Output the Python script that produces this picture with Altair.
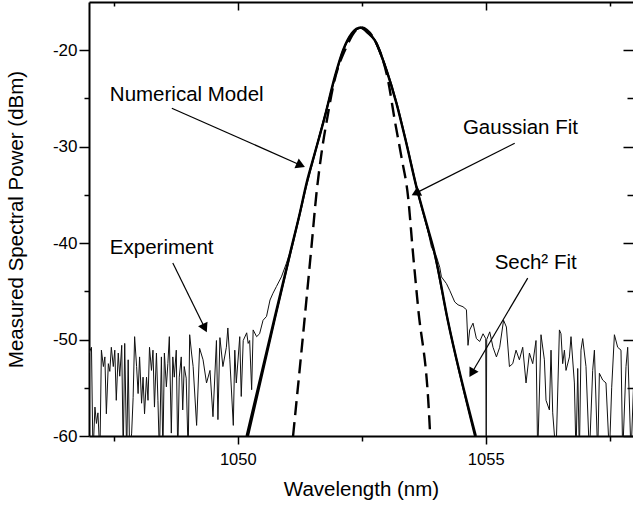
import math
import altair as alt
import pandas as pd

FONT = "Liberation Sans"

# ---------------- data ----------------
exp_wl = [1047.00, 1047.05, 1047.08, 1047.12, 1047.15, 1047.18, 1047.22, 1047.25, 1047.29, 1047.32,
          1047.35, 1047.39, 1047.42, 1047.45, 1047.49, 1047.52, 1047.55, 1047.59, 1047.62, 1047.66,
          1047.69, 1047.72, 1047.76, 1047.79, 1047.82, 1047.86, 1047.89, 1047.92, 1047.96, 1047.99,
          1048.02, 1048.06, 1048.09, 1048.12, 1048.16, 1048.19, 1048.22, 1048.26, 1048.29, 1048.32,
          1048.36, 1048.39, 1048.42, 1048.46, 1048.49, 1048.52, 1048.56, 1048.59, 1048.62, 1048.66,
          1048.69, 1048.72, 1048.76, 1048.79, 1048.82, 1048.86, 1048.89, 1048.92, 1048.96, 1049.00,
          1049.03, 1049.07, 1049.10, 1049.17, 1049.23, 1049.30, 1049.37, 1049.44, 1049.50, 1049.57,
          1049.60, 1049.64, 1049.70, 1049.77, 1049.80, 1049.84, 1049.91, 1049.94, 1049.97, 1050.04,
          1050.07, 1050.11, 1050.18, 1050.21, 1050.24, 1050.28, 1050.31, 1050.38, 1050.44, 1050.51,
          1050.58, 1050.65, 1050.71, 1050.78, 1050.88, 1050.98, 1051.05, 1051.10, 1051.25, 1051.39,
          1051.55, 1051.75, 1051.96, 1052.12, 1052.30, 1052.48, 1052.62, 1052.76, 1053.00, 1053.20,
          1053.40, 1053.60, 1053.80, 1053.905, 1054.006, 1054.073, 1054.107, 1054.208, 1054.274, 1054.375,
          1054.442, 1054.542, 1054.611, 1054.643, 1054.677, 1054.744, 1054.812, 1054.879, 1054.946, 1055.00,
          1055.01, 1055.02, 1055.081, 1055.147, 1055.216, 1055.282, 1055.36, 1055.417, 1055.478, 1055.545,
          1055.611, 1055.679, 1055.746, 1055.813, 1055.881, 1055.948, 1056.014, 1056.048, 1056.115, 1056.183,
          1056.216, 1056.284, 1056.317, 1056.351, 1056.417, 1056.486, 1056.518, 1056.552, 1056.587, 1056.619,
          1056.688, 1056.720, 1056.788, 1056.821, 1056.855, 1056.889, 1056.921, 1056.956, 1057.022, 1057.091,
          1057.157, 1057.192, 1057.258, 1057.292, 1057.359, 1057.425, 1057.494, 1057.54, 1057.595, 1057.661,
          1057.728, 1057.762, 1057.829, 1057.863, 1057.930, 1058.00]
exp_db = [-51.4, -50.8, -62.0, -57.0, -58.7, -57.6, -62.0, -51.1, -52.8, -51.8,
          -57.7, -52.5, -53.3, -50.8, -52.8, -51.1, -56.3, -51.4, -53.8, -50.6,
          -62.0, -50.4, -62.0, -52.1, -62.0, -59.7, -56.0, -49.7, -52.8, -55.6,
          -51.8, -56.6, -53.9, -57.7, -53.9, -56.3, -50.8, -53.2, -51.1, -57.0,
          -51.4, -56.3, -62.0, -51.8, -62.0, -51.4, -54.9, -52.5, -49.7, -59.7,
          -51.8, -53.9, -51.1, -62.0, -53.9, -51.8, -57.3, -52.8, -54.0, -62.0,
          -49.5, -51.5, -52.8, -58.9, -50.9, -52.1, -54.5, -53.2, -58.0, -50.1,
          -58.3, -49.8, -52.8, -50.8, -48.8, -52.1, -58.9, -51.1, -54.5, -49.7,
          -55.9, -50.1, -49.3, -50.4, -50.1, -55.2, -49.0, -49.7, -49.4, -48.0,
          -47.6, -45.9, -45.2, -44.5, -43.5, -42.1, -41.0, -40.0, -36.8, -33.7,
          -30.6, -26.8, -22.7, -20.0, -18.2, -17.65, -18.2, -19.0, -22.1, -25.6,
          -29.7, -34.2, -38.0, -40.4, -41.4, -42.5, -43.5, -44.2, -44.9, -46.1,
          -46.4, -46.6, -46.9, -50.6, -49.0, -48.3, -49.9, -50.2, -49.4, -49.9,
          -62.0, -50.0, -49.2, -50.8, -51.8, -50.8, -48.0, -48.7, -52.8, -52.5,
          -51.1, -52.1, -50.8, -54.5, -51.4, -52.5, -50.1, -62.0, -49.5, -52.1,
          -56.3, -57.3, -51.1, -57.6, -62.0, -49.0, -49.4, -52.5, -51.1, -53.2,
          -51.8, -49.7, -54.5, -62.0, -53.0, -62.0, -51.1, -49.9, -52.8, -62.0,
          -53.2, -51.1, -62.0, -53.5, -54.2, -54.5, -62.0, -55.0, -49.5, -50.8,
          -51.1, -62.0, -52.8, -50.8, -62.0, -52.0]

num_wl = [1050.18, 1050.746, 1051.07, 1051.25, 1051.385, 1051.552, 1051.754, 1051.956, 1052.123, 1052.30,
          1052.48, 1052.62, 1052.76, 1052.998, 1053.20, 1053.40, 1053.603, 1053.805, 1053.972, 1054.234, 1054.80]
num_db = [-60.0, -47.67, -40.73, -36.92, -33.81, -30.70, -26.91, -22.77, -20.0, -18.25,
          -17.65, -18.2, -18.96, -22.07, -25.52, -29.67, -34.17, -37.96, -41.07, -47.98, -60.0]

gau_wl = [1051.115, 1051.30, 1051.486, 1051.587, 1051.688, 1051.821, 1051.921, 1052.19, 1052.48,
          1052.83, 1053.03, 1053.165, 1053.30, 1053.434, 1053.534, 1053.635, 1053.871, 1053.88]
gau_db = [-60.0, -50.4, -40.38, -34.85, -30.70, -26.56, -23.80, -19.66, -17.62,
          -19.66, -23.11, -27.25, -31.06, -35.20, -41.07, -46.60, -59.04, -60.0]

sech_wl = [1050.21, 1050.75, 1051.07, 1051.25, 1051.39, 1051.55, 1051.75, 1051.95, 1052.12, 1052.30,
           1052.48, 1052.64, 1052.76, 1053.00, 1053.20, 1053.40, 1053.60, 1053.80, 1053.97, 1054.23, 1054.78]
sech_db = [-60.0, -47.9, -40.9, -37.0, -33.9, -30.8, -27.0, -23.0, -20.1, -18.3,
           -17.7, -18.2, -18.9, -22.0, -25.4, -29.6, -34.1, -38.0, -41.2, -47.9, -60.0]

x_major = [1050, 1055]
x_minor = [1047.5, 1052.5, 1057.5]
y_major = [-60, -50, -40, -30, -20]
y_minor = [-55, -45, -35, -25]

ann_label = ["Numerical Model", "Experiment", "Gaussian Fit", "Sech\u00b2 Fit"]
ann_tx = [1047.42, 1047.42, 1054.54, 1055.18]
ann_ty = [-24.66, -40.55, -28.08, -42.07]
arr_x1 = [1048.67, 1048.69, 1055.585, 1055.847]
arr_y1 = [-26.01, -42.07, -29.64, -43.63]
arr_x2 = [1051.27, 1049.335, 1053.589, 1054.718]
arr_y2 = [-31.92, -48.81, -34.82, -53.47]

# ---------------- layout ----------------
W, H = 544, 434
X_DOM = [1047, 1057.97]
Y_DOM = [-60, -15]
xs = alt.Scale(domain=X_DOM, nice=False, zero=False)
ys = alt.Scale(domain=Y_DOM, nice=False, zero=False)

PX_NM = W / (X_DOM[1] - X_DOM[0])
PX_DB = H / (Y_DOM[1] - Y_DOM[0])
angles = []
for a, b, c, d in zip(arr_x1, arr_y1, arr_x2, arr_y2):
    dx = (c - a) * PX_NM
    dy = -(d - b) * PX_DB
    angles.append(math.degrees(math.atan2(dx, -dy)) % 360)

exp_df = pd.DataFrame({"wl": exp_wl, "db": exp_db})
num_df = pd.DataFrame({"wl": num_wl, "db": num_db})
gau_df = pd.DataFrame({"wl": gau_wl, "db": gau_db})
sech_df = pd.DataFrame({"wl": sech_wl, "db": sech_db})
ann_df = pd.DataFrame({"label": ann_label, "tx": ann_tx, "ty": ann_ty,
                       "x1": arr_x1, "y1": arr_y1, "x2": arr_x2, "y2": arr_y2, "ang": angles})

common = dict(grid=False, tickColor="black", domainColor="black", labelColor="black",
              titleColor="black", labelFont=FONT, titleFont=FONT)

ax_x_major = alt.Axis(orient="bottom", values=x_major, labelExpr="toString(datum.value)",
                      tickSize=8, tickWidth=1.5, domainWidth=2, labelFontSize=16.5, labelPadding=7,
                      labelFlush=False, title="Wavelength (nm)", titleFontSize=20.5,
                      titleFontWeight="normal", titlePadding=12, **common)
ax_y_major = alt.Axis(orient="left", values=y_major, labelExpr="toString(datum.value)",
                      tickSize=10, tickWidth=1.5, domainWidth=2, labelFontSize=17, labelPadding=2,
                      labelFlush=False, title="Measured Spectral Power (dBm)", titleFontSize=20.5,
                      titleFontWeight="normal", titlePadding=26, **common)
ax_x_minor = alt.Axis(orient="bottom", values=x_minor, labels=False, domain=False, tickSize=5,
                      tickWidth=1.5, title=None, **common)
ax_y_minor = alt.Axis(orient="left", values=y_minor, labels=False, domain=False, tickSize=5,
                      tickWidth=1.5, title=None, **common)
ax_x_top = alt.Axis(orient="bottom", offset=-H, values=x_major, labels=False, domain=True,
                    domainWidth=2, tickSize=8, tickWidth=1.5, title=None, **common)
ax_y_right = alt.Axis(orient="left", offset=-W, values=y_major, labels=False, domain=False,
                      tickSize=10, tickWidth=1.5, title=None, **common)
ax_x_top_minor = alt.Axis(orient="bottom", offset=-H, values=x_minor, labels=False, domain=False,
                          tickSize=4, tickWidth=1.5, title=None, **common)
ax_y_right_minor = alt.Axis(orient="left", offset=-W, values=y_minor, labels=False, domain=False,
                            tickSize=6, tickWidth=1.5, title=None, **common)

exp_line = alt.Chart(exp_df).mark_line(color="#111111", strokeWidth=1, clip=True).encode(
    x=alt.X("wl:Q", scale=xs, axis=ax_x_major),
    y=alt.Y("db:Q", scale=ys, axis=ax_y_major),
)
num_line = alt.Chart(num_df).mark_line(color="black", strokeWidth=2.4, clip=True,
                                       interpolate="monotone").encode(
    x=alt.X("wl:Q", scale=xs, axis=ax_x_minor),
    y=alt.Y("db:Q", scale=ys, axis=ax_y_minor),
)
gau_line = alt.Chart(gau_df).mark_line(color="black", strokeWidth=2.4, strokeDash=[14, 7], clip=True,
                                       interpolate="monotone").encode(
    x=alt.X("wl:Q", scale=xs, axis=ax_x_top),
    y=alt.Y("db:Q", scale=ys, axis=ax_y_right),
)
sech_line = alt.Chart(sech_df).mark_line(color="black", strokeWidth=1.8, clip=True,
                                         interpolate="monotone").encode(
    x=alt.X("wl:Q", scale=xs, axis=ax_x_top_minor),
    y=alt.Y("db:Q", scale=ys, axis=ax_y_right_minor),
)

arrows = alt.Chart(ann_df).mark_rule(color="black", strokeWidth=1.2).encode(
    x=alt.X("x1:Q", scale=xs, axis=None),
    y=alt.Y("y1:Q", scale=ys, axis=None),
    x2="x2:Q",
    y2="y2:Q",
)
heads = alt.Chart(ann_df).mark_point(shape="triangle-up", filled=True, size=110, color="black",
                                     opacity=1).encode(
    x=alt.X("x2:Q", scale=xs, axis=None),
    y=alt.Y("y2:Q", scale=ys, axis=None),
    angle=alt.Angle("ang:Q", scale=None),
)
texts = alt.Chart(ann_df).mark_text(align="left", baseline="middle", fontSize=20.5, font=FONT,
                                    color="black").encode(
    x=alt.X("tx:Q", scale=xs, axis=None),
    y=alt.Y("ty:Q", scale=ys, axis=None),
    text="label:N",
)

chart = alt.layer(exp_line, num_line, gau_line, sech_line, arrows, heads, texts).resolve_axis(
    x="independent", y="independent"
).properties(
    width=W, height=H,
    padding={"left": 89, "top": 2, "right": 0, "bottom": 70},
    autosize=alt.AutoSizeParams(type="none"),
    background="white",
).configure_view(stroke=None)

chart.save("out.html", embed_options={"renderer": "svg", "actions": False})
